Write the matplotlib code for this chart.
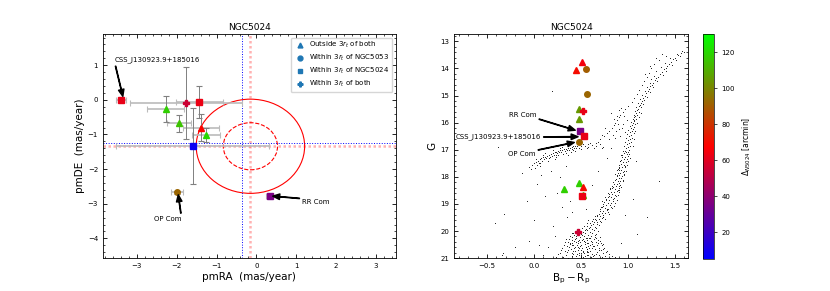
import matplotlib
matplotlib.use('Agg')
import matplotlib.pyplot as plt
import numpy as np
from matplotlib.colors import LinearSegmentedColormap, Normalize
from matplotlib.patches import Circle
from matplotlib.ticker import AutoMinorLocator
import matplotlib.cm as cm

# --- proper motion panel: candidate stars ---
pm_ra = [-3.39, -1.77, -1.43, -2.28, -1.94, -1.39, -1.26, -1.60, -1.98, 0.33]
pm_de = [0.00, -0.10, -0.06, -0.27, -0.68, -0.80, -1.01, -1.33, -2.67, -2.78]
pm_ra_err = [0.13, 1.41, 0.58, 0.47, 0.30, 0.45, 0.35, 1.92, 0.15, 0.08]
pm_de_err = [0.04, 1.04, 0.45, 0.37, 0.25, 0.40, 0.20, 1.10, 0.05, 0.04]
pm_marker = ['s', 'P', 's', '^', '^', '^', '^', 's', 'o', 's']
pm_dist = [62, 55, 63, 118, 115, 68, 120, 8, 92, 35]

# cluster mean proper motions
ngc5024_pm = (-0.15, -1.34)
ngc5053_pm = (-0.37, -1.26)
circle_radii = [1.36, 0.68]

# --- CMD panel: candidate stars ---
cand_bprp = [0.51, 0.45, 0.55, 0.57, 0.48, 0.52, 0.48, 0.49, 0.53, 0.48,
             0.48, 0.52, 0.32, 0.52, 0.51, 0.47]
cand_g = [13.75, 14.06, 14.02, 14.96, 15.51, 15.57, 15.87, 16.30, 16.50, 16.71,
          18.21, 18.38, 18.44, 18.68, 18.71, 20.05]
cand_marker = ['^', '^', 'o', 'o', '^', 'P', '^', 's', 's', 'o',
               '^', '^', '^', '^', 's', 'P']
cand_dist = [65, 70, 90, 92, 105, 62, 105, 35, 62, 92, 118, 70, 118, 120, 63, 55]

rgb_upper = [
    (1.58, 13.35), (1.56, 13.42), (1.60, 13.38), (1.53, 13.50), (1.55, 13.55), (1.50, 13.60),
    (1.48, 13.66), (1.51, 13.70), (1.46, 13.75), (1.44, 13.82), (1.47, 13.86), (1.42, 13.90),
    (1.40, 13.97), (1.38, 14.02), (1.41, 14.08), (1.36, 14.12), (1.34, 14.20), (1.37, 14.25),
    (1.32, 14.30), (1.30, 14.36), (1.29, 14.42), (1.31, 14.47), (1.27, 14.52), (1.26, 14.60),
    (1.24, 14.65), (1.27, 14.70), (1.22, 14.75), (1.21, 14.82), (1.23, 14.88), (1.19, 14.92),
    (1.18, 15.00), (1.20, 15.05), (1.16, 15.10), (1.17, 15.15), (1.15, 15.20), (1.14, 15.26),
    (1.16, 15.30), (1.13, 15.35), (1.12, 15.40), (1.14, 15.44), (1.11, 15.50), (1.10, 15.55),
    (1.12, 15.60), (1.09, 15.65), (1.10, 15.70), (1.08, 15.75), (1.07, 15.80), (1.09, 15.85),
    (1.06, 15.90), (1.07, 15.95), (1.05, 16.00), (1.08, 16.05), (1.04, 16.10), (1.06, 16.15),
    (1.03, 16.20), (1.05, 16.25), (1.04, 16.30), (1.02, 16.35), (1.06, 16.40), (1.03, 16.45),
    (1.01, 16.50), (1.04, 16.55), (1.02, 16.60), (1.00, 16.65), (1.03, 16.70), (1.01, 16.75),
    (0.99, 16.80), (1.02, 16.85), (1.00, 16.90), (0.98, 16.95), (1.01, 17.00),
    (1.52, 13.45), (1.45, 13.62), (1.39, 13.80), (1.35, 13.95), (1.30, 14.10), (1.28, 14.28),
    (1.25, 14.40), (1.23, 14.55), (1.20, 14.70), (1.18, 14.85), (1.15, 14.98), (1.13, 15.12),
    (1.11, 15.28), (1.09, 15.42), (1.08, 15.58), (1.06, 15.72), (1.05, 15.85), (1.03, 15.98),
    (1.02, 16.12), (1.00, 16.28), (0.99, 16.42), (0.98, 16.58), (0.97, 16.72), (0.96, 16.88),
    (1.10, 16.00), (1.12, 15.80), (1.08, 16.30), (1.07, 16.60), (1.05, 16.85), (1.14, 15.65),
    (1.24, 13.90), (1.30, 13.60), (1.36, 13.45), (1.18, 14.20),
]
agb = [
    (1.40, 13.55), (1.33, 13.70), (1.28, 13.85), (1.25, 14.00), (1.22, 14.15), (1.20, 14.30),
    (1.17, 14.45), (1.15, 14.60), (1.12, 14.80), (1.10, 14.95), (1.06, 15.10), (1.04, 15.25),
    (1.00, 15.40), (0.97, 15.50), (0.95, 15.60), (0.92, 15.70), (0.90, 15.80), (0.88, 15.90),
    (0.86, 16.00), (0.85, 16.10), (0.83, 16.20), (0.80, 16.30), (0.78, 16.40), (0.75, 16.50),
    (0.93, 15.45), (0.91, 15.55), (0.96, 15.75), (0.89, 16.05), (0.94, 16.20), (0.87, 16.30),
    (0.97, 16.35), (0.84, 16.45), (0.92, 16.50), (0.99, 15.90), (0.82, 15.65), (0.76, 16.20),
    (0.72, 16.45), (0.70, 16.60), (0.95, 16.05), (0.90, 16.25), (0.86, 16.55), (0.80, 16.60),
    (0.88, 15.75), (0.85, 15.85),
]
hb = [
    (-0.05, 17.62), (-0.02, 17.55), (0.00, 17.50), (0.02, 17.45), (0.04, 17.40), (0.06, 17.36),
    (0.08, 17.32), (0.10, 17.28), (0.12, 17.25), (0.14, 17.22), (0.16, 17.18), (0.18, 17.15),
    (0.20, 17.12), (0.22, 17.10), (0.24, 17.07), (0.26, 17.05), (0.28, 17.02), (0.30, 17.00),
    (0.32, 16.98), (0.34, 16.96), (0.36, 16.94), (0.38, 16.92), (0.40, 16.90), (0.42, 16.88),
    (0.44, 16.86), (0.46, 16.85), (0.05, 17.48), (0.09, 17.40), (0.13, 17.30), (0.17, 17.25),
    (0.21, 17.20), (0.25, 17.12), (0.29, 17.08), (0.33, 17.05), (0.37, 17.00), (0.41, 16.96),
    (0.45, 16.92), (0.03, 17.55), (0.11, 17.35), (0.19, 17.22), (0.27, 17.10), (0.35, 17.02),
    (0.43, 16.95), (0.50, 16.88), (0.54, 16.85), (0.58, 16.90), (0.62, 16.82), (0.66, 16.88),
    (0.70, 16.80), (0.60, 16.75), (0.56, 16.95), (0.64, 16.95), (0.68, 16.72), (0.52, 16.78),
    (0.74, 16.90), (0.48, 16.95), (0.15, 17.40), (0.23, 17.28), (0.31, 17.15), (0.39, 17.10),
    (0.07, 17.60), (0.01, 17.68), (0.26, 17.20), (0.44, 17.05),
    (0.02, 17.35), (0.10, 17.18), (0.20, 17.02), (0.30, 16.90), (0.38, 16.80), (-0.03, 17.72),
    (0.06, 17.50), (0.16, 17.32), (0.24, 17.20), (0.34, 17.12), (0.42, 17.02), (0.50, 16.98),
    (0.58, 16.80), (0.66, 16.76), (0.72, 16.95), (0.12, 17.12), (0.28, 16.94), (0.46, 16.78),
    (0.36, 17.18), (0.22, 17.35),
]
rgb_lower = [
    (0.97, 17.05), (1.00, 17.07), (0.95, 17.03), (0.99, 17.15), (0.96, 17.13), (1.01, 17.17),
    (0.97, 17.25), (0.94, 17.27), (1.00, 17.23), (0.96, 17.35), (0.99, 17.33), (0.93, 17.37),
    (0.95, 17.45), (0.98, 17.47), (0.92, 17.43), (0.96, 17.55), (0.93, 17.53), (0.99, 17.57),
    (0.91, 17.56), (0.94, 17.65), (0.97, 17.63), (0.91, 17.67), (0.93, 17.75), (0.96, 17.77),
    (0.90, 17.73), (0.88, 17.76), (0.92, 17.85), (0.95, 17.83), (0.89, 17.87), (0.91, 17.95),
    (0.94, 17.97), (0.88, 17.93), (0.96, 17.94), (0.90, 18.05), (0.93, 18.03), (0.87, 18.07),
    (0.89, 18.15), (0.92, 18.17), (0.86, 18.13), (0.95, 18.16), (0.88, 18.25), (0.91, 18.23),
    (0.85, 18.27), (0.87, 18.35), (0.90, 18.33), (0.84, 18.37), (0.93, 18.36), (0.86, 18.45),
    (0.89, 18.47), (0.83, 18.43), (0.81, 18.46), (0.85, 18.55), (0.88, 18.53), (0.82, 18.57),
    (0.91, 18.56), (0.83, 18.65), (0.86, 18.67), (0.80, 18.63), (0.89, 18.66), (0.82, 18.75),
    (0.85, 18.77), (0.79, 18.73), (0.76, 18.76), (0.80, 18.85), (0.84, 18.83), (0.77, 18.87),
    (0.88, 18.86), (0.79, 18.95), (0.82, 18.97), (0.75, 18.93), (0.77, 19.05), (0.81, 19.03),
    (0.74, 19.07), (0.85, 19.06), (0.76, 19.15), (0.79, 19.17), (0.72, 19.13), (0.83, 19.16),
    (0.74, 19.25), (0.78, 19.23), (0.70, 19.27), (0.72, 19.35), (0.76, 19.33), (0.69, 19.37),
    (0.80, 19.36), (0.70, 19.45), (0.74, 19.47), (0.67, 19.43), (0.65, 19.46), (0.69, 19.55),
    (0.72, 19.53), (0.65, 19.57), (0.76, 19.56),
    (0.98, 17.10), (0.94, 17.20), (1.02, 17.30), (0.92, 17.40), (0.97, 17.60), (0.89, 17.70),
    (0.98, 17.80), (0.86, 17.90), (0.95, 18.10), (0.84, 18.20), (0.92, 18.30), (0.81, 18.40),
    (0.90, 18.50), (0.79, 18.60), (0.87, 18.70), (0.77, 18.80), (0.86, 18.95), (0.73, 19.00),
    (0.82, 19.10), (0.70, 19.20), (0.79, 19.30), (0.67, 19.40), (0.73, 19.50), (0.63, 19.55),
    (0.91, 17.62), (0.88, 17.98), (0.83, 18.32), (0.80, 18.72), (0.71, 19.10), (1.00, 17.42),
    (0.93, 17.18), (0.96, 17.88), (0.90, 18.42), (0.84, 18.90), (0.78, 19.20), (0.74, 19.40),
]
main_seq = [
    (0.62, 19.62), (0.66, 19.58), (0.70, 19.64), (0.58, 19.60), (0.60, 19.72), (0.64, 19.68),
    (0.67, 19.74), (0.56, 19.70), (0.71, 19.66), (0.57, 19.82), (0.61, 19.78), (0.65, 19.84),
    (0.53, 19.80), (0.69, 19.77), (0.55, 19.92), (0.59, 19.88), (0.62, 19.94), (0.51, 19.90),
    (0.66, 19.87), (0.48, 19.93), (0.52, 20.02), (0.56, 19.98), (0.60, 20.04), (0.49, 20.00),
    (0.64, 19.97), (0.45, 20.03), (0.68, 20.01), (0.50, 20.12), (0.54, 20.08), (0.58, 20.14),
    (0.46, 20.10), (0.62, 20.07), (0.43, 20.13), (0.66, 20.11), (0.40, 20.09), (0.49, 20.22),
    (0.53, 20.18), (0.57, 20.24), (0.45, 20.20), (0.61, 20.17), (0.41, 20.23), (0.65, 20.21),
    (0.38, 20.19), (0.70, 20.23), (0.48, 20.32), (0.52, 20.28), (0.56, 20.34), (0.44, 20.30),
    (0.60, 20.27), (0.40, 20.33), (0.64, 20.31), (0.37, 20.29), (0.68, 20.33), (0.34, 20.31),
    (0.49, 20.42), (0.53, 20.38), (0.57, 20.44), (0.45, 20.40), (0.61, 20.37), (0.41, 20.43),
    (0.66, 20.41), (0.36, 20.39), (0.71, 20.43), (0.33, 20.41), (0.50, 20.52), (0.54, 20.48),
    (0.58, 20.54), (0.46, 20.50), (0.62, 20.47), (0.42, 20.53), (0.67, 20.51), (0.38, 20.49),
    (0.72, 20.53), (0.32, 20.51), (0.51, 20.62), (0.55, 20.58), (0.59, 20.64), (0.47, 20.60),
    (0.64, 20.57), (0.43, 20.63), (0.69, 20.61), (0.37, 20.59), (0.75, 20.63), (0.30, 20.61),
    (0.52, 20.72), (0.56, 20.68), (0.60, 20.74), (0.47, 20.70), (0.65, 20.67), (0.42, 20.73),
    (0.71, 20.71), (0.36, 20.69), (0.78, 20.73), (0.29, 20.71), (0.53, 20.82), (0.57, 20.78),
    (0.62, 20.84), (0.48, 20.80), (0.67, 20.77), (0.42, 20.83), (0.73, 20.81), (0.35, 20.79),
    (0.80, 20.83), (0.28, 20.81), (0.54, 20.92), (0.58, 20.88), (0.63, 20.94), (0.48, 20.90),
    (0.69, 20.87), (0.41, 20.93), (0.76, 20.91), (0.34, 20.89), (0.83, 20.93), (0.50, 20.97),
    (0.47, 20.05), (0.51, 20.15), (0.55, 20.26), (0.43, 20.36), (0.58, 20.46), (0.63, 20.56),
    (0.39, 20.66), (0.52, 20.76), (0.46, 20.86), (0.61, 20.96), (0.68, 20.46), (0.35, 20.56),
    (0.74, 20.66), (0.49, 20.55), (0.57, 20.65), (0.44, 20.75), (0.66, 20.85), (0.31, 20.95),
    (0.59, 20.25), (0.53, 20.35), (0.47, 20.45), (0.41, 20.52), (0.62, 20.62), (0.56, 20.72),
    (0.50, 20.82), (0.45, 20.92), (0.70, 20.36), (0.65, 20.16), (0.42, 20.06), (0.54, 19.95),
    (0.60, 19.85), (0.63, 19.75), (0.67, 19.65), (0.57, 20.88), (0.72, 20.95), (0.38, 20.45),
    (0.33, 20.73), (0.77, 20.78), (0.81, 20.98), (0.26, 20.86), (0.48, 20.64), (0.54, 20.42),
    (0.60, 20.52), (0.45, 20.26), (0.51, 20.33), (0.58, 20.79), (0.64, 20.90), (0.40, 20.80),
    (0.69, 20.70), (0.36, 20.98), (0.86, 20.97), (0.24, 20.95), (0.55, 20.60), (0.50, 20.70),
    (0.44, 20.58), (0.62, 20.41), (0.66, 20.27), (0.73, 20.49), (0.52, 20.95), (0.47, 20.37),
]
field = [
    (0.19, 14.84), (-0.38, 16.90), (-0.13, 17.87), (-0.07, 18.90), (0.03, 18.25), (-0.41, 19.70),
    (-0.33, 20.80), (-0.05, 20.35), (1.33, 18.15), (1.10, 20.10), (1.09, 17.40), (0.93, 20.45),
    (-0.32, 19.39), (0.25, 18.60), (0.30, 19.10), (0.35, 19.50), (0.20, 19.80), (0.15, 20.60),
    (0.10, 20.90), (0.05, 20.50), (0.22, 20.20), (0.28, 18.00), (0.12, 18.70), (0.40, 19.30),
    (0.38, 18.90), (0.62, 18.30), (0.68, 17.80), (0.72, 18.90), (0.55, 19.20), (1.20, 19.50),
    (0.00, 19.60), (-0.20, 20.60), (0.97, 19.40), (1.05, 18.80), (0.78, 17.30), (0.82, 16.95),
    (0.18, 17.80), (0.08, 17.95), (0.34, 17.60), (-0.34, 20.90),
]

cmap = LinearSegmentedColormap.from_list('dist', ['blue', 'red', 'lime'])
norm = Normalize(vmin=5, vmax=130)

plt.rcParams['font.size'] = 5.5

fig = plt.figure(figsize=(8.3, 2.91), dpi=100)
ax1 = fig.add_axes([0.124, 0.113, 0.353, 0.770])
ax2 = fig.add_axes([0.547, 0.113, 0.282, 0.770])
cax = fig.add_axes([0.847, 0.110, 0.0133, 0.772])

# ---------------- left: proper motions ----------------
ax1.axvline(ngc5024_pm[0], color='red', ls=(0, (1, 1)), lw=1.8, alpha=0.3)
ax1.axhline(ngc5024_pm[1], color='red', ls=(0, (1, 1)), lw=1.8, alpha=0.3)
ax1.axvline(ngc5053_pm[0], color='blue', ls=':', lw=0.7)
ax1.axhline(ngc5053_pm[1], color='blue', ls=':', lw=0.7)
ax1.add_patch(Circle(ngc5024_pm, circle_radii[0], fill=False, color='red', lw=0.8))
ax1.add_patch(Circle(ngc5024_pm, circle_radii[1], fill=False, color='red', lw=0.8, ls='--'))

ax1.errorbar(pm_ra, pm_de, xerr=pm_ra_err, fmt='none', ecolor='#bbbbbb', elinewidth=1.2,
             capsize=2, capthick=0.8, zorder=2)
ax1.errorbar(pm_ra, pm_de, yerr=pm_de_err, fmt='none', ecolor='gray', elinewidth=0.7,
             capsize=2, capthick=0.8, zorder=2)
for x, y, m, d in zip(pm_ra, pm_de, pm_marker, pm_dist):
    ax1.plot(x, y, m, color=cmap(norm(d)), markersize=4, zorder=3)

arrow = dict(facecolor='black', edgecolor='black', width=0.3, headwidth=4, headlength=5)
ax1.annotate('CSS_J130923.9+185016', xy=(pm_ra[0] + 0.04, pm_de[0] + 0.1),
             xytext=(-3.55, 1.15), arrowprops=arrow, fontsize=5, va='center')
ax1.annotate('OP Com', xy=(pm_ra[8] + 0.02, pm_de[8] - 0.07),
             xytext=(-2.23, -3.44), arrowprops=arrow, fontsize=5, ha='center', va='center')
ax1.annotate('RR Com', xy=(pm_ra[9] + 0.08, pm_de[9]),
             xytext=(1.15, -2.94), arrowprops=arrow, fontsize=5, va='center')

for m, lab in zip(['^', 'o', 's', 'P'],
                  ['Outside 3$r_t$ of both', 'Within 3$r_t$ of NGC5053',
                   'Within 3$r_t$ of NGC5024', 'Within 3$r_t$ of both']):
    ax1.plot([], [], m, color='#1f77b4', markersize=3.5, label=lab, ls='none')
ax1.legend(loc='upper right', fontsize=5, handletextpad=0.3, borderpad=0.4, labelspacing=0.4)

ax1.set_xlim(-3.85, 3.5)
ax1.set_ylim(-4.57, 1.9)
ax1.set_title('NGC5024', fontsize=6.5, pad=3)
ax1.set_xlabel('pmRA  (mas/year)', fontsize=7.5, labelpad=2)
ax1.set_ylabel('pmDE  (mas/year)', fontsize=7.5, labelpad=2)

# ---------------- right: CMD ----------------
for group in [rgb_upper, agb, hb, rgb_lower, main_seq, field]:
    pts = np.array(group)
    ax2.plot(pts[:, 0], pts[:, 1], '.', color='black', markersize=1.5, markeredgewidth=0)

for x, y, m, d in zip(cand_bprp, cand_g, cand_marker, cand_dist):
    ax2.plot(x, y, m, color=cmap(norm(d)), markersize=4, zorder=3)

ax2.annotate('RR Com', xy=(0.44, 16.28), xytext=(-0.12, 15.73), arrowprops=arrow,
             fontsize=5, ha='center', va='center')
ax2.annotate('CSS_J130923.9+185016', xy=(0.47, 16.52), xytext=(-0.38, 16.53), arrowprops=arrow,
             fontsize=5, ha='center', va='center')
ax2.annotate('OP Com', xy=(0.43, 16.73), xytext=(-0.13, 17.14), arrowprops=arrow,
             fontsize=5, ha='center', va='center')

ax2.set_xlim(-0.85, 1.64)
ax2.set_ylim(21.0, 12.73)
ax2.set_title('NGC5024', fontsize=6.5, pad=3)
ax2.set_xlabel('$\\mathrm{B_p - R_p}$', fontsize=7.5, labelpad=2)
ax2.set_ylabel('G', fontsize=7.5, labelpad=2)

for ax in (ax1, ax2):
    ax.xaxis.set_minor_locator(AutoMinorLocator())
    ax.yaxis.set_minor_locator(AutoMinorLocator())
    ax.tick_params(which='both', direction='in', top=True, right=True, labelsize=5)
    ax.tick_params(which='major', length=3, width=0.6)
    ax.tick_params(which='minor', length=1.5, width=0.5)
    for s in ax.spines.values():
        s.set_linewidth(0.6)

sm = cm.ScalarMappable(norm=norm, cmap=cmap)
cb = fig.colorbar(sm, cax=cax, ticks=[20, 40, 60, 80, 100, 120])
cb.ax.tick_params(labelsize=5, length=2, width=0.5)
cb.outline.set_linewidth(0.5)
cb.set_label('$\\Delta_{N5024}$ [arcmin]', fontsize=5.5)

fig.savefig('out.png', dpi=100)
